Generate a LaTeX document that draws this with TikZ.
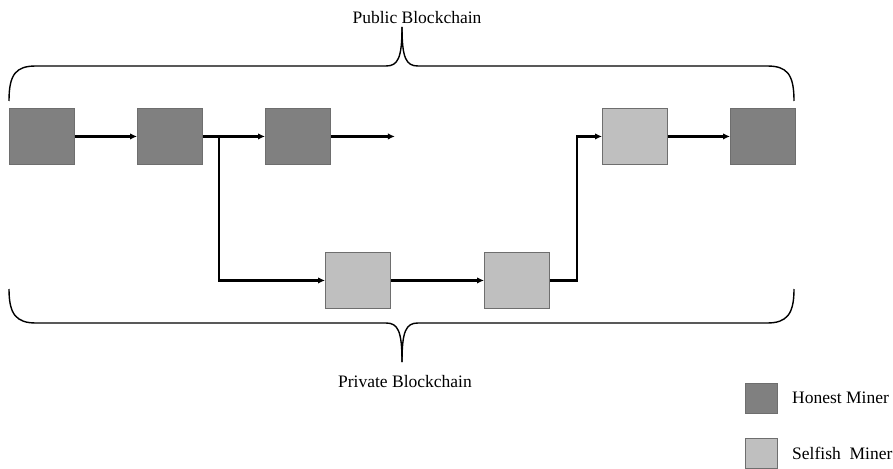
\documentclass[tikz,border=0pt]{standalone}
\usepackage{fontspec}
\setmainfont{Liberation Serif}
\usetikzlibrary{arrows.meta}
\definecolor{honest}{HTML}{808080}
\definecolor{selfish}{HTML}{BFBFBF}
\definecolor{edge}{HTML}{6E6E6E}
\tikzset{
  blk/.style={draw=edge, line width=0.9pt, minimum width=65pt, minimum height=56pt, inner sep=0pt, anchor=north west},
  hon/.style={blk, fill=honest},
  sel/.style={blk, fill=selfish},
  arr/.style={line width=2.2pt, -{Latex[length=7pt,width=6.5pt]}},
  brace/.style={line width=1.4pt},
  lbl/.style={font=\fontsize{17.5}{20}\selectfont, inner sep=0pt},
  leg/.style={draw=edge, line width=0.9pt, minimum width=32pt, minimum height=30pt, inner sep=0pt, anchor=north west}
}
\begin{document}
\begin{tikzpicture}[x=1pt,y=-1pt]
\useasboundingbox (0,0) rectangle (893,468);
% blocks
\node[hon] (b1) at (9,108) {};
\node[hon] (b2) at (137,108) {};
\node[hon] (b3) at (265,108) {};
\node[sel] (b6) at (602,108) {};
\node[hon] (b7) at (730,108) {};
\node[sel] (b4) at (325,252) {};
\node[sel] (b5) at (484,252) {};
\path (b3.east) ++(64,0) coordinate (end);
% connectors
\draw[arr] (b1.east) -- (b2.west);
\draw[arr] (b2.east) -- (b3.west);
\draw[arr] (b3.east) -- (end);
\draw[arr] (b2.east) -- ++(16,0) |- (b4.west);
\draw[arr] (b4.east) -- (b5.west);
\draw[arr] (b5.east) -- ++(27,0) |- (b6.west);
\draw[arr] (b6.east) -- (b7.west);
% top brace
\draw[brace] (9,101) .. controls (9,74) and (16,66) .. (36,66) -- (386,66)
  .. controls (398,66) and (402,58) .. (402,27);
\draw[brace] (794,101) .. controls (794,74) and (787,66) .. (767,66) -- (418,66)
  .. controls (406,66) and (402,58) .. (402,27);
% bottom brace
\draw[brace] (9,289) .. controls (9,314) and (16,323) .. (36,323) -- (386,323)
  .. controls (398,323) and (402,331) .. (402,362);
\draw[brace] (794,289) .. controls (794,314) and (787,323) .. (767,323) -- (418,323)
  .. controls (406,323) and (402,331) .. (402,362);
% labels
\node[lbl] (pub) at (417,18) {Public Blockchain};
\node[lbl] (priv) at (405,382) {Private Blockchain};
% legend
\node[leg, fill=honest] (lh) at (745,383) {};
\node[lbl, anchor=west] (lht) at (792,398) {Honest Miner};
\node[leg, fill=selfish] (ls) at (745,438) {};
\node[lbl, anchor=west] (lst) at (792,453) {Selfish\ \ Miner};
\end{tikzpicture}
\end{document}
